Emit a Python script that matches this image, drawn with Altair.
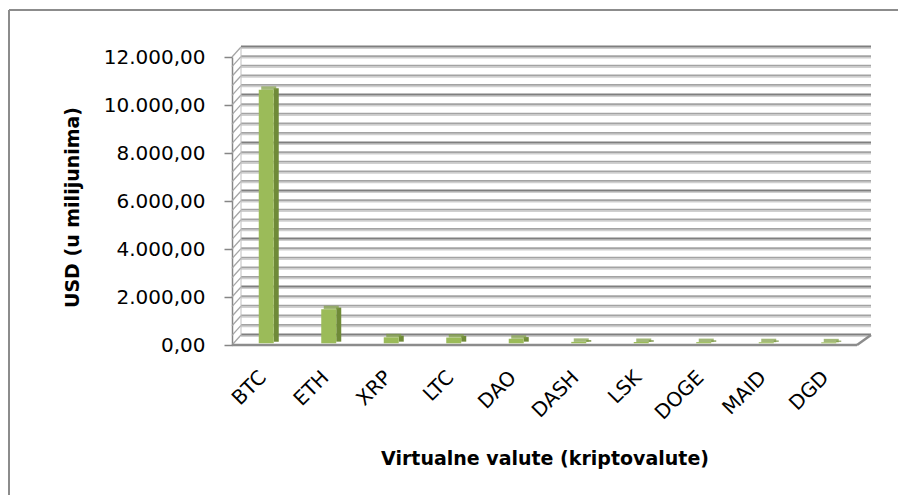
import altair as alt
import pandas as pd

# ---- data ----
coins = ["BTC", "ETH", "XRP", "LTC", "DAO", "DASH", "LSK", "DOGE", "MAID", "DGD"]
usd_millions = [10560, 1420, 250, 240, 190, 60, 55, 50, 45, 40]
y_ticks = [0, 2000, 4000, 6000, 8000, 10000, 12000]
grid_minor = [0, 400, 800, 1200, 1600, 2000, 2400, 2800, 3200, 3600, 4000, 4400,
              4800, 5200, 5600, 6000, 6400, 6800, 7200, 7600, 8000, 8400, 8800,
              9200, 9600, 10000, 10400, 10800, 11200, 11600, 12000]

df = pd.DataFrame({"coin": coins, "value": usd_millions})
gdf = pd.DataFrame({"v": grid_minor})
gdf["major"] = gdf["v"].isin(y_ticks)
edges = pd.DataFrame({"lo": [0], "hi": [12000]})

W, H = 625, 288
DX_L, DX_R, DY = 9, 14, -10
FONT = "DejaVu Sans"

ydom = alt.Scale(domain=[0, 12000])
yaxis = alt.Axis(
    values=y_ticks, grid=False, domainColor="#868686", domainWidth=1.5,
    tickColor="#868686", tickSize=8, tickWidth=1.5,
    labelFont=FONT, labelFontSize=20, labelColor="#000000", labelPadding=19,
    labelExpr="replace(replace(replace(format(datum.value, ',.2f'), ',', '#'), '.', ','), '#', '.')",
    titleFont=FONT, titleFontSize=19, titleFontWeight="bold", titleColor="#000000",
    titleAngle=270, titleX=-160, titleY=150, titleBaseline="middle", titleAlign="center",
)
YTITLE = "USD (u milijunima)"

def yq(field):
    return alt.Y(field, type="quantitative", scale=ydom, axis=yaxis, title=YTITLE)

base_grid = alt.Chart(gdf)
grid_light = base_grid.mark_rule(strokeWidth=1.4, yOffset=DY + 1.2, color="#d0d0d0").encode(
    y=yq("v"), x=alt.value(DX_L), x2=alt.value(W + DX_R),
)
grid_minor_l = base_grid.transform_filter("!datum.major").mark_rule(
    strokeWidth=1.8, yOffset=DY - 0.5, color="#a3a3a3").encode(
    y=yq("v"), x=alt.value(DX_L), x2=alt.value(W + DX_R),
)
grid_major_l = base_grid.transform_filter("datum.major").mark_rule(
    strokeWidth=1.9, yOffset=DY - 0.5, color="#7f7f7f").encode(
    y=yq("v"), x=alt.value(DX_L), x2=alt.value(W + DX_R),
)
hatch = base_grid.mark_rule(strokeWidth=1.3, color="#a6a6a6", y2Offset=DY).encode(
    y=yq("v"), y2=alt.Y2("v"), x=alt.value(0), x2=alt.value(DX_L),
)

eb = alt.Chart(edges)
wall_edge = eb.mark_rule(strokeWidth=1, color="#bfbfbf", yOffset=DY, y2Offset=DY).encode(
    y=yq("lo"), y2=alt.Y2("hi"), x=alt.value(DX_L),
)
floor_front = eb.mark_rule(strokeWidth=2.5, color="#8c8c8c").encode(
    y=yq("lo"), x=alt.value(0), x2=alt.value(W),
)
floor_right = eb.mark_rule(strokeWidth=2.5, color="#8c8c8c", y2Offset=DY).encode(
    y=yq("lo"), y2=alt.Y2("lo"), x=alt.value(W), x2=alt.value(W + DX_R),
)
border_left = eb.mark_rule(strokeWidth=2, color="#8c8c8c", yOffset=-47, y2Offset=160).encode(
    y=yq("hi"), y2=alt.Y2("lo"), x=alt.value(-223),
)
border_top = eb.mark_rule(strokeWidth=2, color="#8c8c8c", yOffset=-47).encode(
    y=yq("hi"), x=alt.value(-223), x2=alt.value(W + 60),
)

xenc = alt.X(
    "coin:N", sort=coins, title="Virtualne valute (kriptovalute)",
    scale=alt.Scale(paddingInner=0, paddingOuter=0),
    axis=alt.Axis(
        labelAngle=-45, labelAlign="right", labelBaseline="middle",
        labelFont=FONT, labelFontSize=20, labelColor="#000000", labelPadding=29,
        ticks=False, tickSize=0, domain=False, grid=False,
        titleFont=FONT, titleFontSize=19, titleFontWeight="bold", titleColor="#000000",
        titleY=113, titleBaseline="middle",
    ),
)

BOFF = -1.7
bars = alt.Chart(df)
side = bars.mark_bar(size=5, xOffset=13, yOffset=BOFF - 1.65, y2Offset=BOFF - 1.65,
                     color="#6f8a38").encode(x=xenc, y=yq("value"))
top = bars.mark_tick(size=15, thickness=3.5, xOffset=5.5, yOffset=BOFF - 1.75,
                     color="#7c9b40").encode(x=xenc, y=yq("value"))
front = bars.mark_bar(size=15, xOffset=3, yOffset=BOFF, y2Offset=BOFF,
                      color="#9bbb59").encode(x=xenc, y=yq("value"))

chart = alt.layer(
    border_left, border_top, grid_light, grid_minor_l, grid_major_l, hatch, wall_edge,
    floor_front, floor_right, side, top, front,
).properties(
    width=W, height=H,
    padding={"left": 224, "top": 49, "right": 41, "bottom": 150},
    autosize=alt.AutoSizeParams(type="none"),
).configure_view(stroke=None)

chart.save("out.html", embed_options={"renderer": "svg", "actions": False})
